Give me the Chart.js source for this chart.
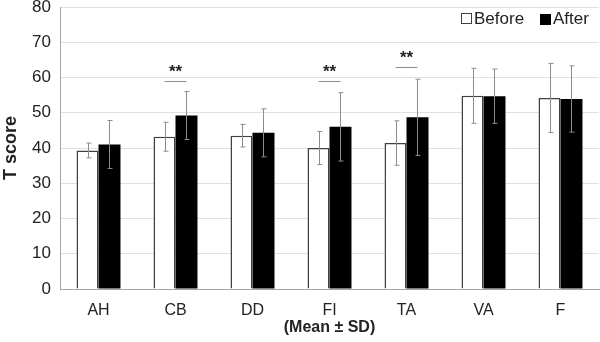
<!DOCTYPE html>
<html>
<head>
<meta charset="utf-8">
<script src="https://cdn.jsdelivr.net/npm/chart.js@4"></script>
<style>
  html, body { margin: 0; padding: 0; background: #fff; }
</style>
</head>
<body>
<canvas id="chart" width="600" height="342"></canvas>
<script>
var categories = ['AH', 'CB', 'DD', 'FI', 'TA', 'VA', 'F'];
var beforeMean = [39.3, 43.2, 43.5, 40.0, 41.4, 54.8, 54.2];
var beforeSD   = [2.1, 4.1, 3.2, 4.7, 6.3, 7.8, 9.8];
var afterMean  = [41.0, 49.2, 44.3, 46.0, 48.7, 54.7, 53.9];
var afterSD    = [6.8, 6.8, 6.8, 9.7, 10.8, 7.7, 9.4];
// significance marks (category index, level of the bracket line)
var sigIndex = [1, 3, 4];
var sigLevel = [59, 59, 63];
var sigText  = ['**', '**', '**'];

var FONT = "'Liberation Sans', Arial, sans-serif";

var errorBars = {
  id: 'errorBars',
  afterDatasetsDraw: function (chart) {
    var ctx = chart.ctx;
    var y = chart.scales.y;
    var sds = [beforeSD, afterSD];
    var means = [beforeMean, afterMean];
    ctx.save();
    ctx.strokeStyle = '#8c8c8c';
    ctx.lineWidth = 1;
    chart.data.datasets.forEach(function (ds, di) {
      var meta = chart.getDatasetMeta(di);
      meta.data.forEach(function (bar, i) {
        var x = Math.round(bar.x) + 0.5;
        var top = y.getPixelForValue(means[di][i] + sds[di][i]);
        var bot = y.getPixelForValue(means[di][i] - sds[di][i]);
        ctx.beginPath();
        ctx.moveTo(x, top); ctx.lineTo(x, bot);
        ctx.moveTo(x - 2, top); ctx.lineTo(x + 3, top);
        ctx.moveTo(x - 2, bot); ctx.lineTo(x + 3, bot);
        ctx.stroke();
      });
    });
    // significance brackets
    var xs = chart.scales.x;
    ctx.fillStyle = '#222';
    ctx.font = 'bold 17px ' + FONT;
    ctx.textAlign = 'center';
    ctx.textBaseline = 'middle';
    sigIndex.forEach(function (ci, k) {
      var cx = xs.getPixelForValue(ci);
      var ly = Math.round(y.getPixelForValue(sigLevel[k])) + 0.5;
      ctx.beginPath();
      ctx.moveTo(cx - 11, ly); ctx.lineTo(cx + 11, ly);
      ctx.stroke();
      ctx.fillText(sigText[k], cx, ly - 9);
    });

    // legend, top right inside the plot
    ctx.font = '17px ' + FONT;
    ctx.textAlign = 'left';
    var ly2 = 19;
    ctx.fillStyle = '#fff';
    ctx.fillRect(461.5, ly2 - 5.5, 10, 10);
    ctx.strokeStyle = '#404040';
    ctx.lineWidth = 1;
    ctx.strokeRect(461.5, ly2 - 5.5, 10, 10);
    ctx.fillStyle = '#222';
    ctx.fillText(chart.data.datasets[0].label, 474, ly2);
    ctx.fillStyle = '#000';
    ctx.fillRect(540, ly2 - 5, 11, 11);
    ctx.fillStyle = '#222';
    ctx.fillText(chart.data.datasets[1].label, 553, ly2);
    ctx.restore();
  }
};

var ctx = document.getElementById('chart').getContext('2d');
var chart = new Chart(ctx, {
  type: 'bar',
  data: {
    labels: categories,
    datasets: [{
      label: 'Before',
      data: beforeMean,
      backgroundColor: '#ffffff',
      borderColor: '#404040',
      borderWidth: 1.5,
      categoryPercentage: 0.571,
      barPercentage: 1.0
    }, {
      label: 'After',
      data: afterMean,
      backgroundColor: '#000000',
      borderColor: '#000000',
      borderWidth: 0,
      categoryPercentage: 0.571,
      barPercentage: 1.0
    }]
  },
  options: {
    responsive: false,
    animation: false,
    layout: { padding: { top: 7, right: 1, left: 0, bottom: 0 } },
    plugins: {
      tooltip: { enabled: false },
      legend: { display: false }
    },
    scales: {
      x: {
        grid: { display: false },
        border: { color: '#a6a6a6', width: 1 },
        ticks: { color: '#222', font: { family: FONT, size: 16 }, padding: 4 },
        title: {
          display: true,
          text: '(Mean \u00b1 SD)',
          color: '#222',
          font: { family: FONT, size: 16, weight: 'bold' },
          padding: { top: 0, bottom: 5 }
        },
        afterFit: function (s) { s.height = 53; }
      },
      y: {
        min: 0,
        max: 80,
        ticks: { stepSize: 10, color: '#222', font: { family: FONT, size: 17 }, padding: 9 },
        grid: { color: '#e0e0e0', drawTicks: false },
        border: { color: '#a6a6a6', width: 1 },
        title: {
          display: true,
          text: 'T score',
          color: '#222',
          font: { family: FONT, size: 18, weight: 'bold' },
          padding: { top: 0, bottom: 4 }
        },
        afterFit: function (s) { s.width = 60; s.paddingTop = 0; s.paddingBottom = 0; }
      }
    }
  },
  plugins: [errorBars]
});
</script>
</body>
</html>
